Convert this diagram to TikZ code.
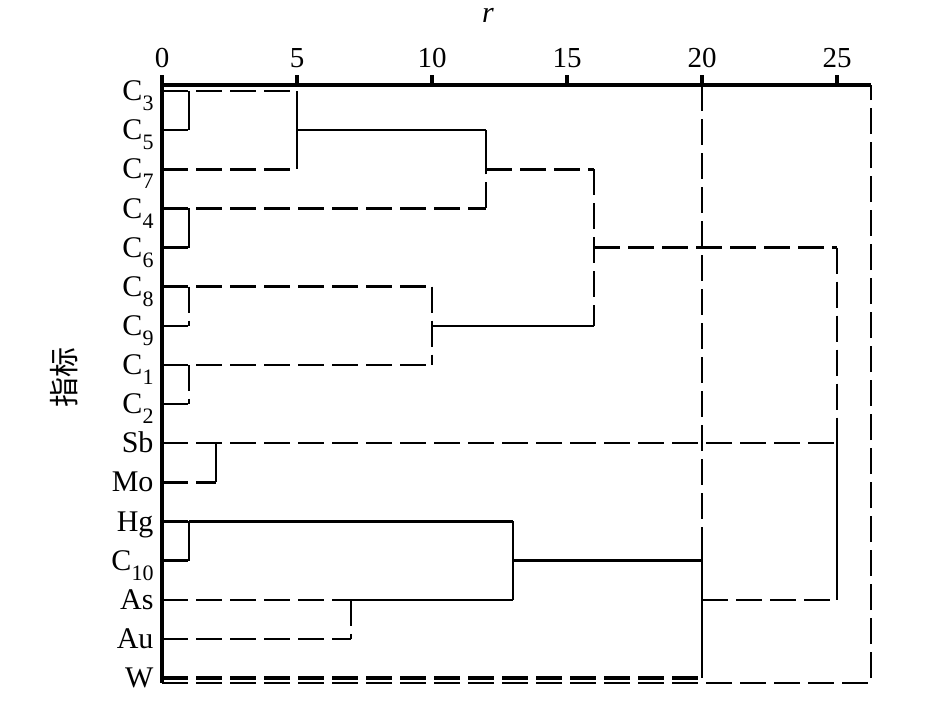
\documentclass[tikz,border=0pt]{standalone}
\usepackage{fontspec}
\setmainfont{Liberation Serif}
\newfontfamily\cjk{Noto Sans CJK SC}
\tikzset{
	axisline/.style={line width=1.8pt},
	link/.style={line width=1.25pt},
	dlink/.style={line width=1.25pt,dash pattern=on 13pt off 4pt},
	leaf/.style={anchor=base east,inner sep=0pt,font=\fontsize{15}{16}\selectfont},
	ticklabel/.style={anchor=base,inner sep=0pt,font=\fontsize{14.5}{16}\selectfont}
}
\newcommand{\lsub}[1]{\raisebox{-5pt}{\fontsize{11}{11}\selectfont #1}}

\begin{document}
\begin{tikzpicture}[x=13.5pt,y=-19.567pt]
\useasboundingbox (-6,-1.3256) rectangle (29,16.794);

% Axis
\draw [axisline] (0,0.592) -- (0,16.13);
\draw [axisline] (0,0.847) -- (26.26,0.847);
\foreach \t in {0,5,...,25} {
	\draw [axisline] (\t,0.847) -- (\t,0.592);
	\node [ticklabel] (t\t) at (\t,0.387) {\t};
}
\node [ticklabel,font=\fontsize{15}{16}\selectfont\itshape] (rlabel) at (12.07,-0.763) {r};
\node [rotate=90,inner sep=0pt,font=\cjk\fontsize{15}{15}\selectfont] (ylabel) at (-3.63,8.33) {指标};

% Leaves
\node [leaf] (C3) at (-0.3,1.245) {C\lsub{3}};
\node [leaf] (C5) at (-0.3,2.245) {C\lsub{5}};
\node [leaf] (C7) at (-0.3,3.245) {C\lsub{7}};
\node [leaf] (C4) at (-0.3,4.245) {C\lsub{4}};
\node [leaf] (C6) at (-0.3,5.245) {C\lsub{6}};
\node [leaf] (C8) at (-0.3,6.245) {C\lsub{8}};
\node [leaf] (C9) at (-0.3,7.245) {C\lsub{9}};
\node [leaf] (C1) at (-0.3,8.245) {C\lsub{1}};
\node [leaf] (C2) at (-0.3,9.245) {C\lsub{2}};
\node [leaf] (Sb) at (-0.3,10.245) {Sb};
\node [leaf] (Mo) at (-0.3,11.245) {Mo};
\node [leaf] (Hg) at (-0.3,12.245) {Hg};
\node [leaf] (C10) at (-0.3,13.245) {C\lsub{10}};
\node [leaf] (As) at (-0.3,14.245) {As};
\node [leaf] (Au) at (-0.3,15.245) {Au};
\node [leaf] (W) at (-0.3,16.245) {W};

% C3, C5, C7
\draw [dlink] (0,1) -- (5,1);
\draw [dlink] (0,2) -- (1,2);
\draw [dlink] (0,3) -- (5,3);
\draw [link] (1,1) -- (1,2);
\draw [link] (5,1) -- (5,3);
\draw [link] (5,2) -- (12,2);
% C4, C6
\draw [dlink] (0,4) -- (12,4);
\draw [dlink] (0,5) -- (1,5);
\draw [link] (1,4) -- (1,5);
\draw [link] (12,2) -- (12,3);
\draw [dlink] (12,4) -- (12,3);
\draw [dlink] (12,3) -- (16,3);
% C8, C9, C1, C2
\draw [dlink] (0,6) -- (10,6);
\draw [dlink] (0,7) -- (1,7);
\draw [dlink] (1,6) -- (1,7);
\draw [dlink] (0,8) -- (10,8);
\draw [dlink] (0,9) -- (1,9);
\draw [dlink] (1,8) -- (1,9);
\draw [dlink] (10,6) -- (10,8);
\draw [link] (10,7) -- (16,7);
\draw [dlink] (16,3) -- (16,7);
\draw [dlink] (16,5) -- (25,5);
% Sb, Mo
\draw [dlink] (0,10) -- (25,10);
\draw [dlink] (0,11) -- (2,11);
\draw [link] (2,10) -- (2,11);
% Hg, C10, As, Au
\draw [dlink] (0,12) -- (1,12);
\draw [link] (1,12) -- (13,12);
\draw [link] (1,12) -- (1,13);
\draw [dlink] (0,13) -- (1,13);
\draw [dlink] (0,14) -- (7,14);
\draw [link] (7,14) -- (13,14);
\draw [dlink] (7,14) -- (7,15);
\draw [dlink] (0,15) -- (7,15);
\draw [link] (13,12) -- (13,14);
\draw [link] (13,13) -- (20,13);
% W and outer links
\draw [dlink] (20,0.847) -- (20,12.63);
\draw [link] (20,12.63) -- (20,16);
\draw [dlink] (20,14) -- (25,14);
\draw [dlink] (25,5) -- (25,10);
\draw [link] (25,10) -- (25,14);
\draw [dlink,line width=1.9pt] (0,16) -- (20,16);
\draw [dlink] (0,16.13) -- (26.26,16.13) -- (26.26,0.847);
\end{tikzpicture}
\end{document}
